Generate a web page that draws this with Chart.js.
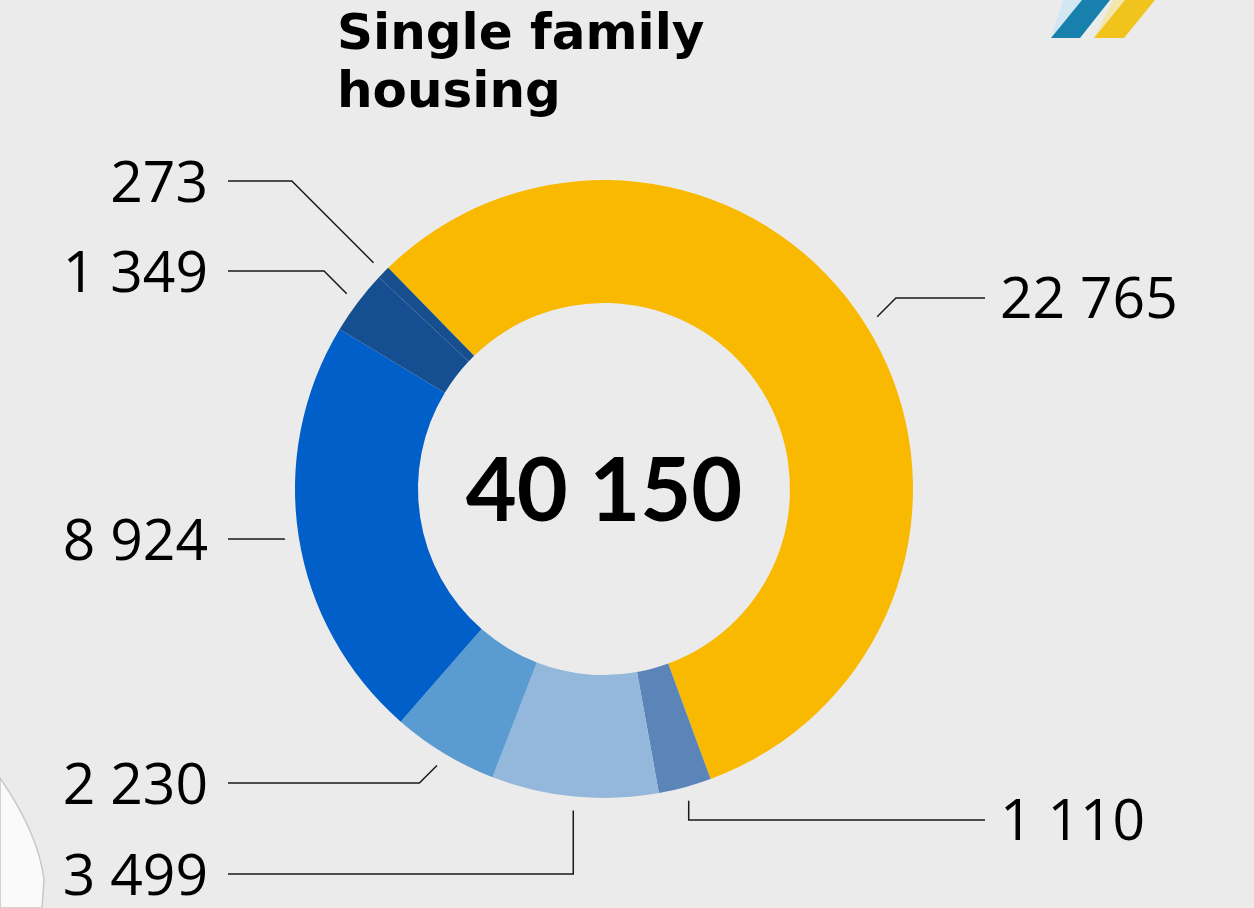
<!DOCTYPE html>
<html>
<head>
<meta charset="utf-8">
<script src="https://cdn.jsdelivr.net/npm/chart.js@4.4.1/dist/chart.umd.min.js"></script>
<style>
  html, body { margin: 0; padding: 0; }
  body { width: 1254px; height: 908px; background: #ebebeb; position: relative; overflow: hidden; font-family: Lato, "Open Sans", sans-serif; }
  #deco { position: absolute; left: 0; top: 0; }
  #title { position: absolute; left: 337px; top: 3px; font-family: "DejaVu Sans", sans-serif; font-size: 50px; font-weight: 700; line-height: 58px; color: #000; }
  canvas { position: absolute; left: 0; top: 0; }
</style>
</head>
<body>
<svg id="deco" width="1254" height="908">
  <path d="M0,778 C22,810 40,845 44,880 L42,908 L0,908 Z" fill="#fafafa" stroke="#c8c8c8" stroke-width="1.5"/>
  <polygon points="1051,38 1063,0 1082,0" fill="#d3e7f2"/>
  <polygon points="1051,38 1080,38 1110,0 1082,0" fill="#1780ad"/>
  <polygon points="1094,38 1113,0 1125,0" fill="#f3e6aa"/>
  <polygon points="1094,38 1124,38 1155,0 1125,0" fill="#f0c41c"/>
</svg>
<div id="title">Single family<br>housing</div>
<canvas id="housingChart" width="1254" height="908"></canvas>
<script>
'use strict';

// data
var categories = ['A', 'B', 'C', 'D', 'E', 'F', 'G'];
var values = [22765, 1110, 3499, 2230, 8924, 1349, 273];
var colors = ['#f8b900', '#5b84b8', '#94b8db', '#5a9bd2', '#005fc9', '#164f91', '#174e8e'];
var total = 40150;

// label layout: side (-1 left, 1 right), y of leader line, elbow type
var labelLayout = [
    { side: 1, y: 298, kind: 'diag' },
    { side: 1, y: 820, kind: 'vert' },
    { side: -1, y: 874, kind: 'vert' },
    { side: -1, y: 783, kind: 'diag' },
    { side: -1, y: 539, kind: 'diag' },
    { side: -1, y: 271, kind: 'diag' },
    { side: -1, y: 181, kind: 'diag' }
];

function fmt(v) {
    return String(v).replace(/\B(?=(\d{3})+(?!\d))/g, ' ');
}

var leaderPlugin = {
    id: 'leaders',
    afterDraw: function(chart) {
        var ctx = chart.ctx;
        var meta = chart.getDatasetMeta(0);
        ctx.save();
        meta.data.forEach(function(arc, i) {
            var p = arc.getProps(['x', 'y', 'startAngle', 'endAngle', 'outerRadius'], true);
            var mid = (p.startAngle + p.endAngle) / 2;
            var r = p.outerRadius + 14;
            var sx = p.x + Math.cos(mid) * r;
            var sy = p.y + Math.sin(mid) * r;
            var lay = labelLayout[i];
            var ex, ey = lay.y;
            if (lay.kind === 'vert') {
                ex = sx;
            } else {
                ex = sx + lay.side * Math.abs(ey - sy);
            }
            var endX = lay.side < 0 ? 228 : 985;
            ctx.beginPath();
            ctx.strokeStyle = '#1a1a1a';
            ctx.lineWidth = 1.5;
            ctx.moveTo(sx, sy);
            ctx.lineTo(ex, ey);
            ctx.lineTo(endX, ey);
            ctx.stroke();

            ctx.fillStyle = '#000';
            ctx.font = '400 57px "Open Sans", sans-serif';
            ctx.textBaseline = 'middle';
            if (lay.side < 0) {
                ctx.textAlign = 'right';
                ctx.fillText(fmt(values[i]), 208, ey + 5);
            } else {
                ctx.textAlign = 'left';
                ctx.fillText(fmt(values[i]), 1000, ey + 4);
            }
        });
        // total in the centre
        var c = meta.data[0];
        ctx.font = '700 88px Lato, "Open Sans", sans-serif';
        ctx.textAlign = 'center';
        ctx.textBaseline = 'middle';
        ctx.fillText(fmt(total), c.x, c.y + 4);
        ctx.restore();
    }
};

var ctx = document.getElementById('housingChart');
var housingChart = new Chart(ctx, {
    type: 'doughnut',
    data: {
        labels: categories,
        datasets: [
            {
                data: values,
                backgroundColor: colors,
                borderWidth: 0
            }
        ]
    },
    options: {
        responsive: false,
        animation: false,
        cutout: '60.2%',
        rotation: -44.3,
        layout: {
            padding: { left: 295, right: 341, top: 180, bottom: 110 }
        },
        plugins: {
            legend: { display: false },
            tooltip: { enabled: false }
        }
    },
    plugins: [leaderPlugin]
});
</script>
</body>
</html>
